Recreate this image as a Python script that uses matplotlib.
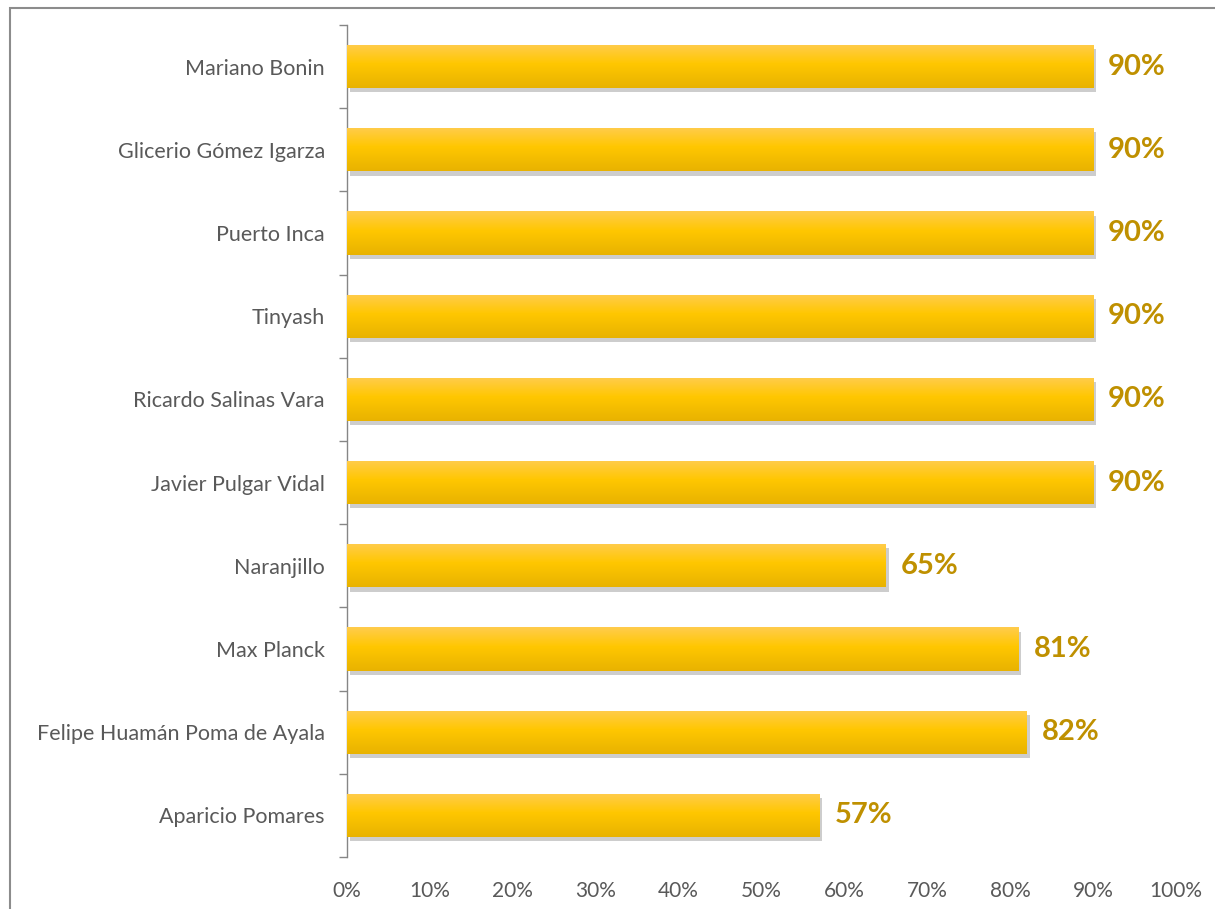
import matplotlib
matplotlib.use("Agg")
import matplotlib.pyplot as plt
import matplotlib.patheffects as pe
from matplotlib.patches import Rectangle
from matplotlib.ticker import FixedLocator, PercentFormatter
import numpy as np

categories = ["Mariano Bonin", "Glicerio Gómez Igarza", "Puerto Inca", "Tinyash",
              "Ricardo Salinas Vara", "Javier Pulgar Vidal", "Naranjillo", "Max Planck",
              "Felipe Huamán Poma de Ayala", "Aparicio Pomares"]
values = [90, 90, 90, 90, 90, 90, 65, 81, 82, 57]
value_labels = ["90%", "90%", "90%", "90%", "90%", "90%", "65%", "81%", "82%", "57%"]
xticks = [0, 10, 20, 30, 40, 50, 60, 70, 80, 90, 100]

plt.rcParams['font.family'] = ['Lato', 'DejaVu Sans']

fig = plt.figure(figsize=(12.15, 9.09), dpi=100)
ax = fig.add_axes([347/1215, 1-857/909, (1176-347)/1215, (857-25)/909])

# figure frame
fig.patches.append(Rectangle((10/1215, -0.1), 1.2, 1 - 8/909 + 0.1, transform=fig.transFigure,
                             fill=False, edgecolor='#8c8c8c', linewidth=1.5, zorder=0))

y = np.arange(len(categories))
bars = ax.barh(y, values, height=0.52, color='#FFC400', zorder=2,
               path_effects=[pe.SimplePatchShadow(offset=(2, -3), shadow_rgbFace='#707070', alpha=0.35),
                             pe.Normal()])

# vertical gradient for each bar
top = np.array([1.0, 0.80, 0.30])
mid = np.array([1.0, 0.78, 0.0])
bot = np.array([0.91, 0.70, 0.0])
n = 64
t = np.linspace(0, 1, n)
grad = np.zeros((n, 1, 3))
for i, tt in enumerate(t):
    if tt < 0.45:
        c = top + (mid - top) * (tt / 0.45)
    else:
        c = mid + (bot - mid) * ((tt - 0.45) / 0.55)
    grad[i, 0] = c

for rect in bars:
    x0, y0 = rect.get_x(), rect.get_y()
    w, h = rect.get_width(), rect.get_height()
    im = ax.imshow(grad, extent=[x0, x0 + w, y0 + h, y0], aspect='auto', zorder=3,
                   interpolation='bilinear')
    im.set_clip_path(rect)

for yi, v, lab in zip(y, values, value_labels):
    ax.text(v + 1.8, yi, lab, va='center', ha='left', fontsize=21, fontweight='bold',
            color='#BF9000', zorder=4)

ax.set_xlim(0, 100)
ax.set_ylim(len(categories) - 0.5, -0.5)
ax.set_xticks(xticks)
ax.xaxis.set_major_formatter(PercentFormatter(decimals=0))
ax.set_yticks(y)
ax.set_yticklabels(categories)
ax.yaxis.set_minor_locator(FixedLocator(np.arange(-0.5, len(categories), 1)))
ax.tick_params(axis='y', which='major', length=0, pad=16, labelsize=15.5, labelcolor='#595959')
ax.tick_params(axis='y', which='minor', length=6, color='#868686', width=1)
ax.tick_params(axis='x', length=0, pad=17, labelsize=15, labelcolor='#595959')

for s in ['top', 'right', 'bottom']:
    ax.spines[s].set_visible(False)
ax.spines['left'].set_color('#868686')
ax.spines['left'].set_linewidth(1)

fig.savefig("out.png", dpi=100)
